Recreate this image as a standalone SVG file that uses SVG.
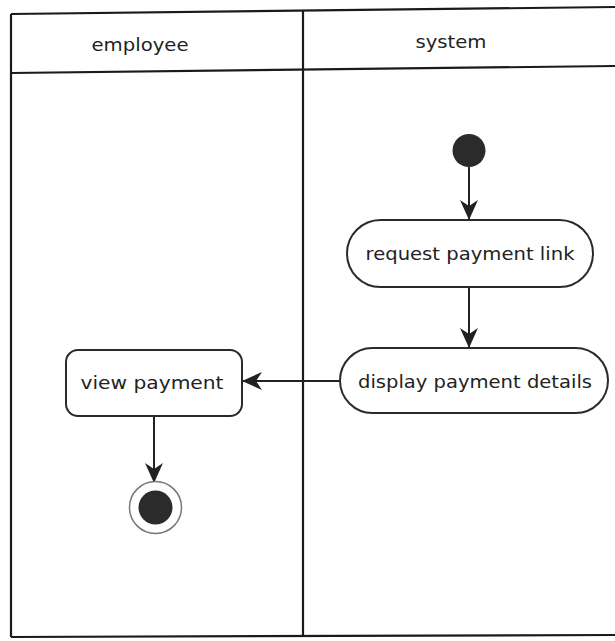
<svg xmlns="http://www.w3.org/2000/svg" width="615" height="641" viewBox="0 0 615 641">
<style>
.lane{fill:none;stroke:#1a1a1a;stroke-width:2.2}
.node{fill:#fff;stroke:#2a2a2a;stroke-width:2}
.lbl{font-family:"DejaVu Sans",Verdana,sans-serif;font-size:17.5px;fill:#222;text-anchor:middle}
.conn{fill:none;stroke:#222;stroke-width:2}
</style>
<defs>
<marker id="ah" viewBox="0 0 20 18" refX="19" refY="9" markerWidth="20" markerHeight="18" markerUnits="userSpaceOnUse" orient="auto">
<path d="M0,0 L20,9 L0,18 L6,9 Z" fill="#222"/>
</marker>
</defs>
<rect width="615" height="641" fill="#fff"/>
<g id="lanes">
<path class="lane" d="M11,14 L615,7"/>
<path class="lane" d="M11,73 L615,66"/>
<path class="lane" d="M11,637 L615,635"/>
<path class="lane" d="M11,14 L11,637"/>
<path class="lane" d="M303,10 L303,636"/>
<text class="lbl" x="140" y="51" textLength="97" lengthAdjust="spacingAndGlyphs">employee</text>
<text class="lbl" x="451" y="48" textLength="71" lengthAdjust="spacingAndGlyphs">system</text>
</g>
<g id="connectors">
<path class="conn" d="M469,167 L469,219" marker-end="url(#ah)"/>
<path class="conn" d="M469,287 L469,347" marker-end="url(#ah)"/>
<path class="conn" d="M340,381 L243,381" marker-end="url(#ah)"/>
<path class="conn" d="M154,416 L154,482" marker-end="url(#ah)"/>
</g>
<g id="start">
<circle cx="469" cy="150.5" r="16.5" fill="#2b2b2b"/>
</g>
<g id="request">
<rect class="node" x="347" y="220" width="246" height="67" rx="33.5"/>
<text class="lbl" x="470" y="260" textLength="209" lengthAdjust="spacingAndGlyphs">request payment link</text>
</g>
<g id="display">
<rect class="node" x="340" y="348" width="268" height="65" rx="32.5"/>
<text class="lbl" x="475" y="388" textLength="234" lengthAdjust="spacingAndGlyphs">display payment details</text>
</g>
<g id="view">
<rect class="node" x="66" y="350" width="176" height="66" rx="12"/>
<text class="lbl" x="152" y="389" textLength="143" lengthAdjust="spacingAndGlyphs">view payment</text>
</g>
<g id="end">
<circle cx="155.5" cy="507.5" r="26" fill="#fff" stroke="#777" stroke-width="1.5"/>
<circle cx="155.5" cy="507.5" r="17" fill="#2b2b2b"/>
</g>
</svg>
